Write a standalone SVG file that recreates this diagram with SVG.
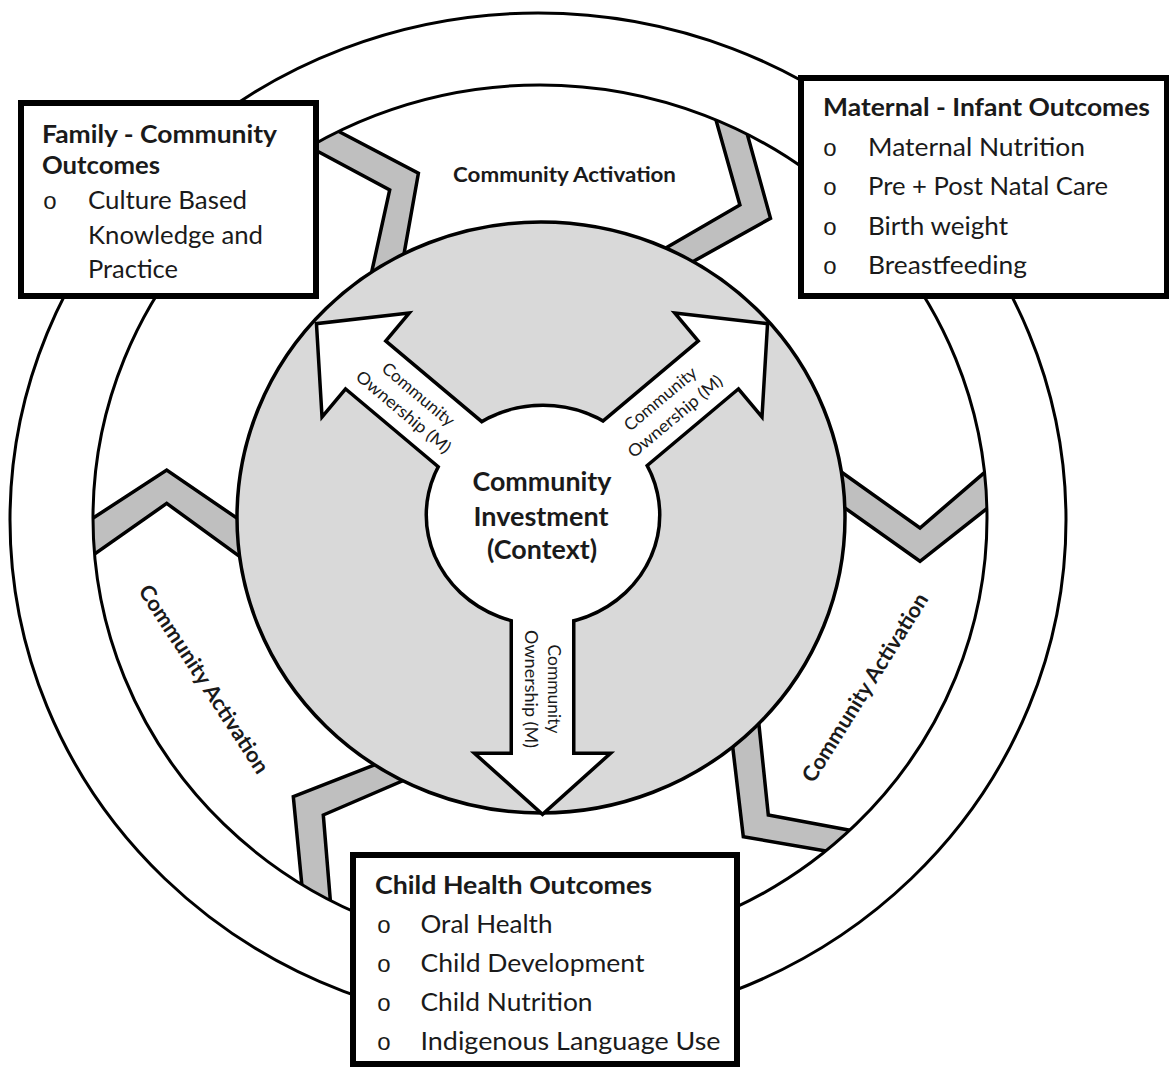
<svg xmlns="http://www.w3.org/2000/svg" width="1169" height="1067" viewBox="0 0 1169 1067">
<defs>
<style>
.ring{fill:none;stroke:#000;stroke-width:3}
.chev{fill:#bfbfbf;stroke:#000;stroke-width:3.5;stroke-linejoin:miter}
.disk{fill:#d9d9d9;stroke:#000;stroke-width:3.5}
.box{fill:#fff;stroke:#000;stroke-width:6}
.t{font-family:Lato,"Open Sans","Liberation Sans",sans-serif;fill:#1a1a1a}
.h{font-weight:bold;font-size:25.5px}
.li{font-size:25.5px}
.bul{font-family:"Liberation Sans",Arial,sans-serif;font-size:24px;fill:#1a1a1a;text-anchor:middle}
.ca{font-weight:bold;font-size:21.5px;text-anchor:middle}
.own{font-size:17px;text-anchor:middle}
.hubtxt{font-weight:bold;font-size:26px;text-anchor:middle}
</style>
<clipPath id="inMid"><ellipse cx="540" cy="518" rx="447" ry="433"/></clipPath>
<g id="hubShape">
<ellipse cx="543" cy="515" rx="115" ry="108"/>
<polygon points="492.4,509.9 345.3,386.4 323.5,412.5 318.3,325.2 405.1,315.2 383.3,341.2 530.3,464.7"/>
<polygon points="553.7,464.7 700.7,341.2 678.9,315.2 765.7,325.2 760.5,412.5 738.7,386.4 591.6,509.9"/>
<polygon points="513,553 513,755 479,755 542.5,812 606,755 572,755 572,553"/>
</g>
</defs>
<rect width="1169" height="1067" fill="#fff"/>

<g id="rings">
<ellipse class="ring" cx="538" cy="520" rx="528" ry="507"/>
<ellipse cx="540" cy="518" rx="447" ry="433" fill="#fff"/>
</g>

<g id="connectors" clip-path="url(#inMid)">
<polygon class="chev" points="315,119 418.4,173.3 398,287.7 363.9,307.4 389.7,190 292.3,137.8"/>
<polygon class="chev" points="739.5,106 770.5,218.3 660.9,279.5 630.6,268.4 739.9,205 708.8,94.4"/>
<polygon class="chev" points="71.6,532.1 166.7,470 266.3,538.3 269,577.8 166.7,503.4 72.1,569.7"/>
<polygon class="chev" points="815.7,453.8 920,528 1006,454 1010.3,490.1 920,561.3 815.7,487.2"/>
<polygon class="chev" points="407.2,752.1 293.3,796.7 304.6,913.2 332.5,926.6 323.3,815 433.4,767.5"/>
<polygon class="chev" points="728.6,712 743.3,836.7 859.6,856.8 877.8,835.5 768.3,815 755.9,695.2"/>
</g>
<ellipse class="ring" cx="540" cy="518" rx="447" ry="433"/>

<g id="activation-labels" class="t">
<text class="ca" x="564.5" y="182" textLength="223" lengthAdjust="spacingAndGlyphs">Community Activation</text>
<text class="ca" transform="translate(204,679) rotate(57)" x="0" y="7.5" textLength="220" lengthAdjust="spacingAndGlyphs">Community Activation</text>
<text class="ca" transform="translate(865,687.5) rotate(-58)" x="0" y="7.5" textLength="218" lengthAdjust="spacingAndGlyphs">Community Activation</text>
</g>

<g id="ownership">
<ellipse class="disk" cx="541" cy="517.5" rx="304" ry="295.5"/>
</g>

<g id="hub">
<use href="#hubShape" fill="#000" stroke="#000" stroke-width="7" stroke-linejoin="miter"/>
<use href="#hubShape" fill="#fff"/>
<g class="t">
<g transform="translate(411,403) rotate(40)">
<text class="own" x="0" y="-5.5" textLength="89" lengthAdjust="spacingAndGlyphs">Community</text>
<text class="own" x="0" y="17.5" textLength="118" lengthAdjust="spacingAndGlyphs">Ownership (M)</text>
</g>
<g transform="translate(667.6,407.5) rotate(-40)">
<text class="own" x="0" y="-5.5" textLength="89" lengthAdjust="spacingAndGlyphs">Community</text>
<text class="own" x="0" y="17.5" textLength="118" lengthAdjust="spacingAndGlyphs">Ownership (M)</text>
</g>
<g transform="translate(542.5,689) rotate(90)">
<text class="own" x="0" y="-5.5" textLength="89" lengthAdjust="spacingAndGlyphs">Community</text>
<text class="own" x="0" y="17.5" textLength="118" lengthAdjust="spacingAndGlyphs">Ownership (M)</text>
</g>
<text class="hubtxt" x="542" y="491" textLength="139" lengthAdjust="spacingAndGlyphs">Community</text>
<text class="hubtxt" x="541" y="525.5" textLength="135" lengthAdjust="spacingAndGlyphs">Investment</text>
<text class="hubtxt" x="542" y="559" textLength="110" lengthAdjust="spacingAndGlyphs">(Context)</text>
</g>
</g>

<g id="family-community">
<rect class="box" x="21" y="103" width="295" height="193"/>
<g class="t">
<text class="h" x="42" y="142.5" textLength="235" lengthAdjust="spacingAndGlyphs">Family - Community</text>
<text class="h" x="42" y="174" textLength="118" lengthAdjust="spacingAndGlyphs">Outcomes</text>
<text class="bul" x="50" y="209">o</text>
<text class="li" x="88" y="209" textLength="159" lengthAdjust="spacingAndGlyphs">Culture Based</text>
<text class="li" x="88" y="244" textLength="175" lengthAdjust="spacingAndGlyphs">Knowledge and</text>
<text class="li" x="88" y="277.5" textLength="90" lengthAdjust="spacingAndGlyphs">Practice</text>
</g>
</g>

<g id="maternal-infant">
<rect class="box" x="801" y="78" width="366" height="218"/>
<g class="t">
<text class="h" x="823" y="115.7" textLength="327" lengthAdjust="spacingAndGlyphs">Maternal - Infant Outcomes</text>
<text class="bul" x="830" y="156">o</text>
<text class="bul" x="830" y="195">o</text>
<text class="bul" x="830" y="235">o</text>
<text class="bul" x="830" y="274">o</text>
<text class="li" x="868" y="156" textLength="217" lengthAdjust="spacingAndGlyphs">Maternal Nutrition</text>
<text class="li" x="868" y="195" textLength="240" lengthAdjust="spacingAndGlyphs">Pre + Post Natal Care</text>
<text class="li" x="868" y="235" textLength="140" lengthAdjust="spacingAndGlyphs">Birth weight</text>
<text class="li" x="868" y="274" textLength="159" lengthAdjust="spacingAndGlyphs">Breastfeeding</text>
</g>
</g>

<g id="child-health">
<rect class="box" x="353" y="855" width="384" height="209"/>
<g class="t">
<text class="h" x="375" y="894" textLength="277" lengthAdjust="spacingAndGlyphs">Child Health Outcomes</text>
<text class="bul" x="384" y="933">o</text>
<text class="bul" x="384" y="972">o</text>
<text class="bul" x="384" y="1011">o</text>
<text class="bul" x="384" y="1049.5">o</text>
<text class="li" x="420.5" y="933" textLength="132" lengthAdjust="spacingAndGlyphs">Oral Health</text>
<text class="li" x="420.5" y="972" textLength="224" lengthAdjust="spacingAndGlyphs">Child Development</text>
<text class="li" x="420.5" y="1011" textLength="172" lengthAdjust="spacingAndGlyphs">Child Nutrition</text>
<text class="li" x="420.5" y="1049.5" textLength="300" lengthAdjust="spacingAndGlyphs">Indigenous Language Use</text>
</g>
</g>
</svg>
